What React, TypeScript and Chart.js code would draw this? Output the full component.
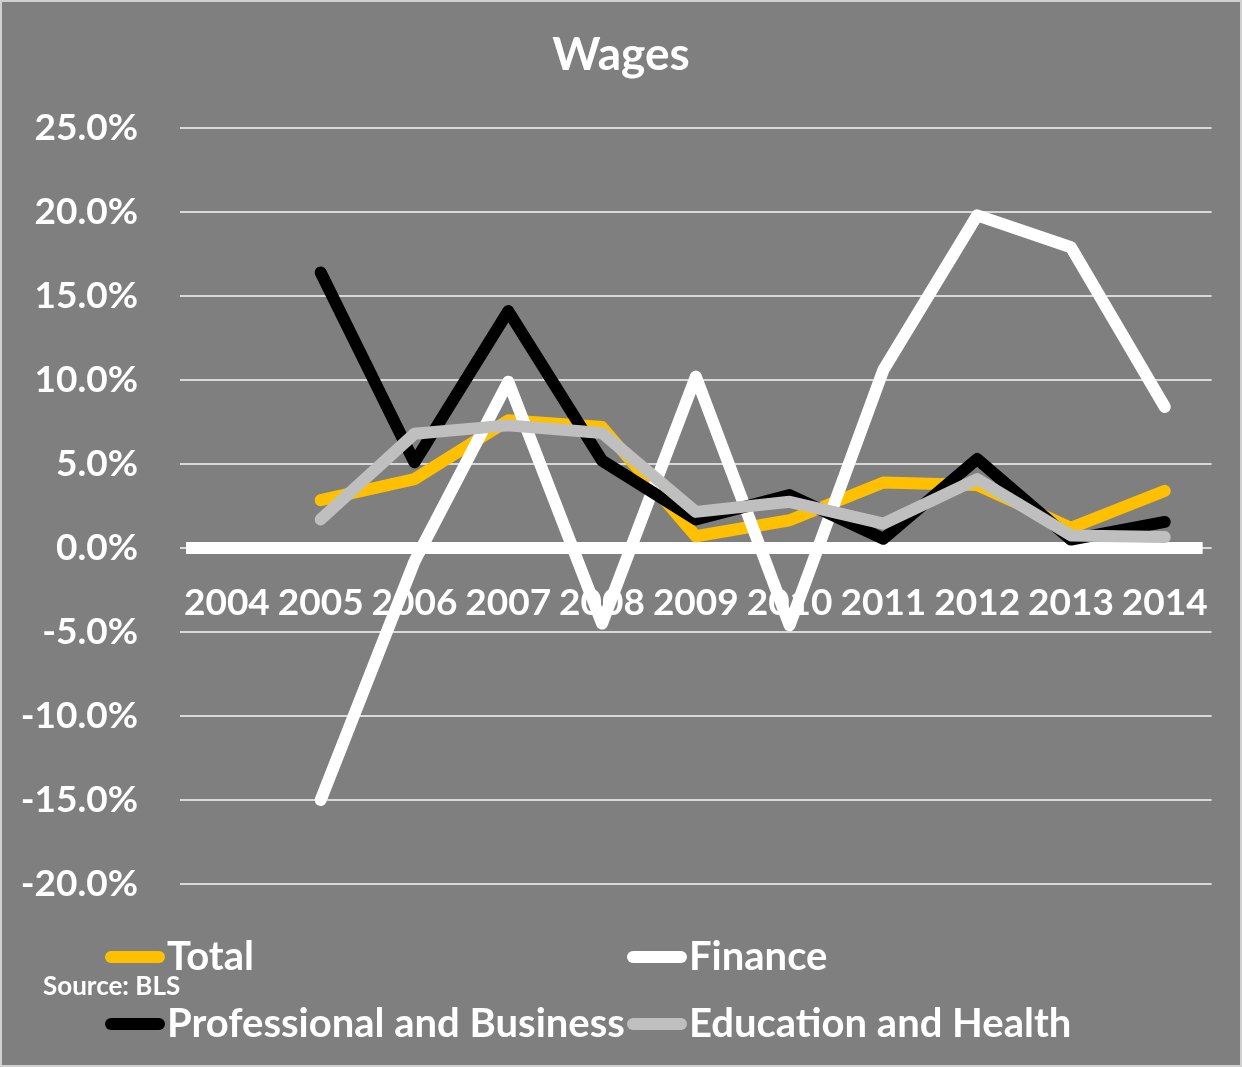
import React, { useEffect, useRef } from 'react';
import { Chart, registerables } from 'chart.js';

Chart.register(...registerables);

const years = ['2004', '2005', '2006', '2007', '2008', '2009', '2010', '2011', '2012', '2013', '2014'];
const total = [null, 2.85, 4.1, 7.6, 7.2, 0.7, 1.65, 3.9, 3.75, 1.2, 3.4];
const finance = [null, -15.0, -0.8, 9.9, -4.5, 10.2, -4.6, 10.6, 19.8, 17.9, 8.4];
const professional = [null, 16.4, 5.1, 14.1, 5.2, 1.7, 3.15, 0.55, 5.3, 0.5, 1.55];
const education = [null, 1.7, 6.8, 7.3, 6.85, 2.15, 2.75, 1.45, 4.1, 0.75, 0.65];

const seriesNames = ['Total', 'Finance', 'Professional and Business', 'Education and Health'];
const seriesColors = ['#FFC000', '#FFFFFF', '#000000', '#BFBFBF'];

const yMin = -20;
const yMax = 25;
const yStep = 5;

const FONT = 'Lato';
const BG = '#7F7F7F';

const zeroLine = {
  id: 'zeroLine',
  beforeDatasetsDraw(chart: any) {
    const { ctx, chartArea, scales } = chart;
    const y = scales.y.getPixelForValue(0);
    ctx.save();
    ctx.strokeStyle = '#FFFFFF';
    ctx.lineWidth = 12;
    ctx.beginPath();
    ctx.moveTo(chartArea.left + 6, y);
    ctx.lineTo(chartArea.right - 9, y);
    ctx.stroke();
    ctx.restore();
  },
};

export default function App() {
  const ref = useRef<HTMLCanvasElement>(null);

  useEffect(() => {
    document.body.style.margin = '0';
    let chart: Chart | null = null;
    let cancelled = false;
    const make = () => {
      if (cancelled || !ref.current) return;
      const seriesData = [total, finance, professional, education];
      chart = new Chart(ref.current, {
        type: 'line',
        data: {
          labels: years,
          datasets: seriesNames.map((name, i) => ({
            label: name,
            data: seriesData[i] as any,
            borderColor: seriesColors[i],
            backgroundColor: seriesColors[i],
            borderWidth: 12,
            pointRadius: 0,
            tension: 0,
            fill: false,
            borderCapStyle: 'round',
            borderJoinStyle: 'round',
            order: 3 - i,
          })),
        },
        options: {
          responsive: false,
          animation: false,
          layout: { padding: { left: 0, right: 29, top: 128, bottom: 183 } },
          plugins: {
            legend: { display: false },
            title: { display: false },
            tooltip: { enabled: false },
          },
          scales: {
            x: {
              type: 'category',
              position: { y: 0 } as any,
              offset: true,
              grid: { display: false, drawTicks: false },
              border: { display: false },
              ticks: {
                color: '#FFFFFF',
                font: { family: FONT, size: 37, weight: 'bold' },
                padding: 33,
                maxRotation: 0,
                autoSkip: false,
              },
              afterFit(s: any) {
                s.height = 0;
              },
            },
            y: {
              min: yMin,
              max: yMax,
              ticks: {
                stepSize: yStep,
                color: '#FFFFFF',
                font: { family: FONT, size: 37, weight: 'bold' },
                padding: 42,
                callback: (v: any) => Number(v).toFixed(1) + '%',
              },
              grid: { color: '#D9D9D9', lineWidth: 2, drawTicks: false },
              border: { display: false },
              afterFit(s: any) {
                s.width = 180;
              },
            },
          },
        },
        plugins: [zeroLine],
      } as any);
    };
    if ((document as any).fonts && (document as any).fonts.load) {
      (document as any).fonts.load(`bold 37px ${FONT}`).then(make, make);
    } else {
      make();
    }
    return () => {
      cancelled = true;
      if (chart) chart.destroy();
    };
  }, []);

  const textStyle: React.CSSProperties = {
    position: 'absolute',
    color: '#FFFFFF',
    fontFamily: FONT,
    fontWeight: 'bold',
    whiteSpace: 'nowrap',
    lineHeight: 1,
  };

  const legendItems = [
    { name: seriesNames[0], color: seriesColors[0], left: 105, top: 957 },
    { name: seriesNames[1], color: seriesColors[1], left: 627, top: 957 },
    { name: seriesNames[2], color: seriesColors[2], left: 105, top: 1024 },
    { name: seriesNames[3], color: seriesColors[3], left: 627, top: 1024 },
  ];

  return (
    <div style={{ position: 'relative', width: 1242, height: 1067, background: BG, overflow: 'hidden' }}>
      <canvas ref={ref} width={1242} height={1067} style={{ position: 'absolute', left: 0, top: 0 }} />
      <div
        style={{
          position: 'absolute',
          left: 0,
          top: 0,
          width: 1242,
          height: 1067,
          boxSizing: 'border-box',
          border: '2px solid #D0D0D0',
          pointerEvents: 'none',
        }}
      />
      <div style={{ ...textStyle, left: 0, width: 1242, textAlign: 'center', top: 30, fontSize: 46 }}>Wages</div>
      {legendItems.map((it) => (
        <div key={it.name} style={{ position: 'absolute', left: it.left, top: it.top - 25, height: 46, display: 'flex', alignItems: 'center' }}>
          <div style={{ width: 60, height: 12, borderRadius: 6, background: it.color, marginTop: 4 }} />
          <div style={{ color: '#FFFFFF', fontFamily: FONT, fontWeight: 'bold', fontSize: 40, whiteSpace: 'nowrap', lineHeight: 1, marginLeft: 2 }}>
            {it.name}
          </div>
        </div>
      ))}
      <div style={{ ...textStyle, left: 43, top: 972, fontSize: 26 }}>Source: BLS</div>
    </div>
  );
}
